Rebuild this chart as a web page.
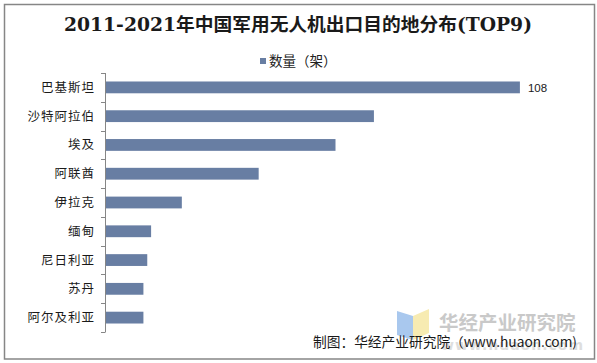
<!DOCTYPE html>
<html>
<head>
<meta charset="utf-8">
<script src="https://cdn.jsdelivr.net/npm/d3@7"></script>
<style>
  body { margin: 0; background: #fff; }
  svg { display: block; }
</style>
</head>
<body>
<div id="wrapper"></div>
<script>
const countries = ["巴基斯坦", "沙特阿拉伯", "埃及", "阿联酋", "伊拉克", "缅甸", "尼日利亚", "苏丹", "阿尔及利亚"];
const counts = [108, 70, 60, 40, 20, 12, 11, 10, 10];
const labeledValues = [108];

const drawBarChart = () => {
  const dataset = countries.map((c, i) => ({ country: c, count: counts[i] }));

  const dimensions = {
    width: 597,
    height: 363,
    margin: { top: 73, right: 31, bottom: 31, left: 105 },
  };

  const xAccessor = (d) => d.count;
  const yAccessor = (d) => d.country;

  const wrapper = d3
    .select("#wrapper")
    .append("svg")
    .attr("width", dimensions.width)
    .attr("height", dimensions.height);

  // outer frame
  wrapper
    .append("rect")
    .attr("x", 4.5)
    .attr("y", 4.5)
    .attr("width", 590)
    .attr("height", 354.5)
    .attr("fill", "#fff")
    .attr("stroke", "#868686")
    .attr("stroke-width", 1.5);

  // title
  wrapper
    .append("text")
    .attr("x", 298)
    .attr("y", 31)
    .attr("text-anchor", "middle")
    .style("font-family", "'DejaVu Serif', 'Noto Sans CJK SC', serif")
    .style("font-weight", "bold")
    .style("font-size", "18px")
    .attr("fill", "#1a1a1a")
    .attr("textLength", 468)
    .attr("lengthAdjust", "spacingAndGlyphs")
    .text("2011-2021年中国军用无人机出口目的地分布(TOP9)");

  // legend
  wrapper
    .append("rect")
    .attr("x", 260)
    .attr("y", 58)
    .attr("width", 6)
    .attr("height", 6)
    .attr("fill", "#687ea3");
  wrapper
    .append("text")
    .attr("x", 269)
    .attr("y", 66)
    .style("font-family", "'Noto Sans CJK SC', sans-serif")
    .style("font-size", "13.5px")
    .attr("fill", "#222")
    .text("数量（架）");

  const bounds = wrapper
    .append("g")
    .attr("transform", `translate(${dimensions.margin.left}, ${dimensions.margin.top})`);

  const xScale = d3
    .scaleLinear()
    .domain([0, 120])
    .range([0, 461]);

  const yScale = d3
    .scaleBand()
    .domain(countries)
    .range([0, 259])
    .paddingInner(0.59)
    .paddingOuter(0.295);

  bounds
    .selectAll("rect.bar")
    .data(dataset)
    .join("rect")
    .attr("class", "bar")
    .attr("x", xScale(0))
    .attr("y", (d) => yScale(yAccessor(d)))
    .attr("width", (d) => xScale(xAccessor(d)))
    .attr("height", yScale.bandwidth())
    .attr("fill", "#687ea3");

  // y axis, ticks sit between categories
  const axis = bounds.append("g");
  axis
    .append("line")
    .attr("x1", 0.5)
    .attr("x2", 0.5)
    .attr("y1", 0)
    .attr("y2", 259)
    .attr("stroke", "#868686");
  axis
    .selectAll("line.tick")
    .data(d3.range(countries.length + 1))
    .join("line")
    .attr("class", "tick")
    .attr("x1", -4)
    .attr("x2", 0.5)
    .attr("y1", (i) => Math.round(i * yScale.step()) + 0.5)
    .attr("y2", (i) => Math.round(i * yScale.step()) + 0.5)
    .attr("stroke", "#868686");

  axis
    .selectAll("text")
    .data(countries)
    .join("text")
    .attr("x", -10)
    .attr("y", (d) => yScale(d) + yScale.bandwidth() / 2)
    .attr("dy", "0.36em")
    .attr("text-anchor", "end")
    .style("font-family", "'Noto Sans CJK SC', sans-serif")
    .style("font-size", "12.5px")
    .style("letter-spacing", "1px")
    .attr("fill", "#1a1a1a")
    .text((d) => d);

  // data label
  bounds
    .selectAll("text.value")
    .data(dataset.filter((d) => labeledValues.includes(d.count)))
    .join("text")
    .attr("class", "value")
    .attr("x", (d) => xScale(xAccessor(d)) + 8)
    .attr("y", (d) => yScale(yAccessor(d)) + yScale.bandwidth() / 2)
    .attr("dy", "0.36em")
    .style("font-family", "'Liberation Sans', Arial, sans-serif")
    .style("font-size", "11.5px")
    .attr("fill", "#1a1a1a")
    .text((d) => d.count);

  // watermark
  const wm = wrapper.append("g");
  wm.append("path")
    .attr("d", "M397,311 L413,316 L413,340 L397,335 Z")
    .attr("fill", "#a9c8ee");
  wm.append("path")
    .attr("d", "M413,316 L429,309 L429,333 L413,340 Z")
    .attr("fill", "#f7ebb2");
  wm.append("text")
    .attr("x", 439)
    .attr("y", 330)
    .style("font-family", "'Noto Sans CJK SC', sans-serif")
    .style("font-weight", "bold")
    .style("font-size", "19.5px")
    .attr("fill", "#c9c9c9")
    .text("华经产业研究院");
  wm.append("text")
    .attr("x", 441)
    .attr("y", 350)
    .style("font-family", "'DejaVu Sans', sans-serif")
    .style("font-weight", "bold")
    .style("font-size", "14px")
    .style("letter-spacing", "1px")
    .attr("fill", "#dedede")
    .text("www.huaon.com");

  // source credit
  wrapper
    .append("text")
    .attr("x", 313)
    .attr("y", 347)
    .style("font-family", "'Noto Sans CJK SC', sans-serif")
    .style("font-size", "13.5px")
    .attr("fill", "#1a1a1a")
    .attr("textLength", 264)
    .attr("lengthAdjust", "spacingAndGlyphs")
    .text("制图：华经产业研究院（www.huaon.com)");
};

drawBarChart();
</script>
</body>
</html>
